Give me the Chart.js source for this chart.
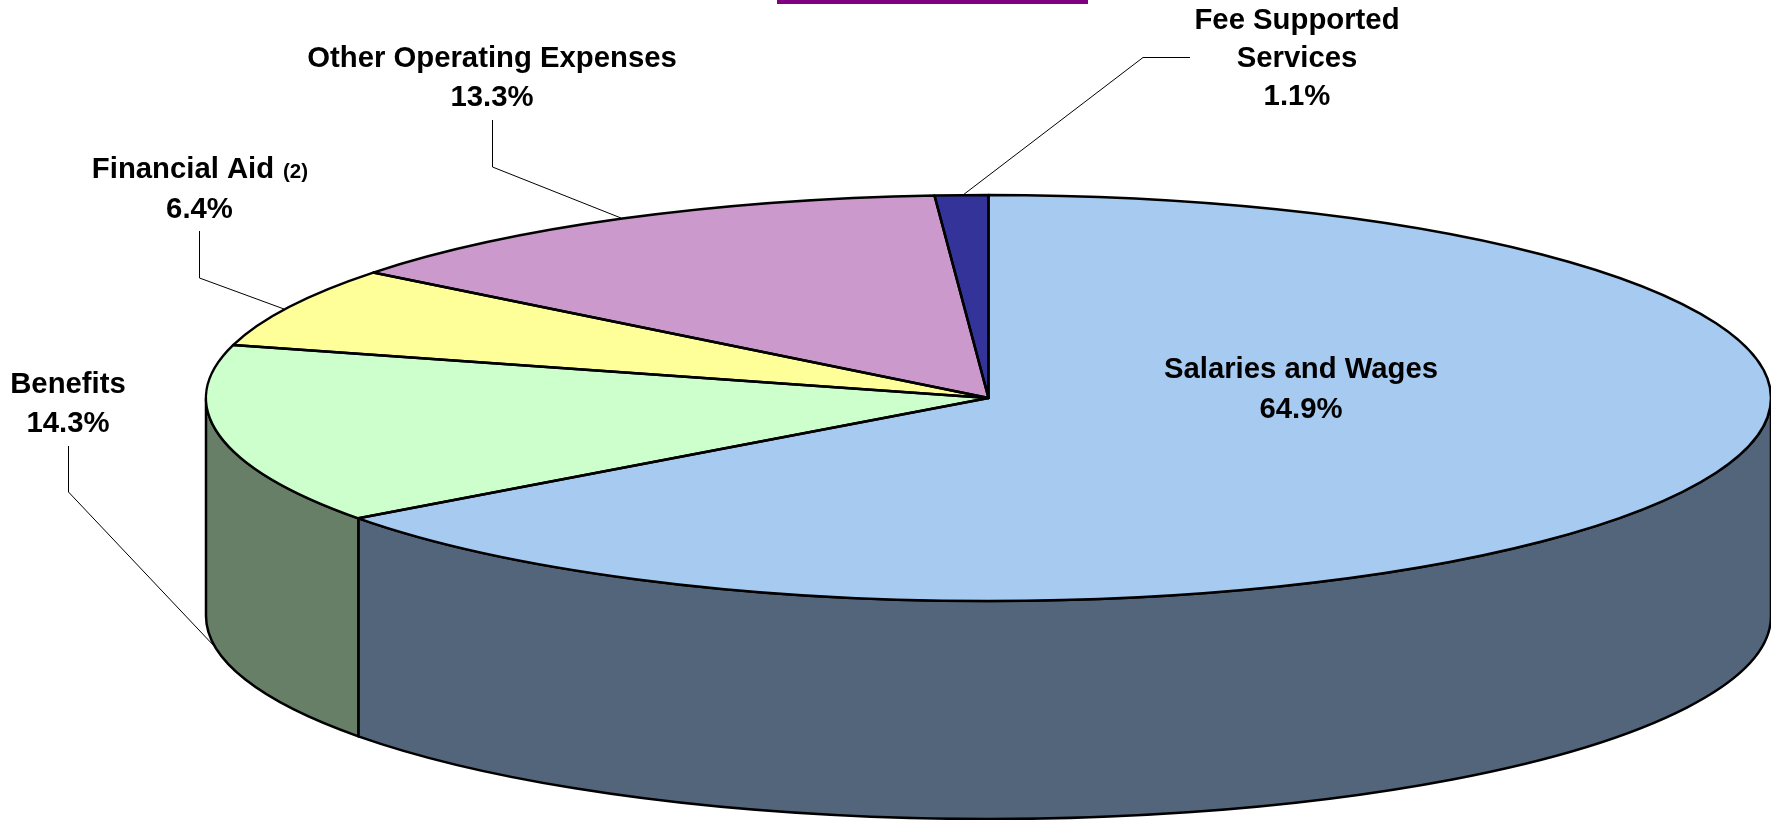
<!DOCTYPE html>
<html>
<head>
<meta charset="utf-8">
<title>Expenses</title>
<script src="https://cdn.jsdelivr.net/npm/chart.js@4/dist/chart.umd.min.js"></script>
<style>
  html, body { margin: 0; padding: 0; background: #ffffff; overflow: hidden; }
  #wrap { width: 1771px; height: 820px; }
</style>
</head>
<body>
<div id="wrap"><canvas id="pie" width="1771" height="820"></canvas></div>
<script>
var categories = ['Salaries and Wages', 'Benefits', 'Financial Aid', 'Other Operating Expenses', 'Fee Supported Services'];
var shares = [64.9, 14.3, 6.4, 13.3, 1.1];
var topColors = ['#A6CAF0', '#CCFFCC', '#FFFF99', '#CC99CC', '#333399'];
var wallColors = ['#53657A', '#667F66', '#80804D', '#664D66', '#1A1A4D'];

var RX = 782.5, RY = 203, DEPTH = 218;
var LABEL_FONT = 'bold 29.3px "Liberation Sans", Arial, sans-serif';
var NOTE_FONT = 'bold 20.5px "Liberation Sans", Arial, sans-serif';

// where each label goes, one entry per category
var labelLayout = [
  { x: 1301, lines: ['Salaries and Wages'], base: [378, 418] },
  { x: 68, lines: ['Benefits'], base: [393, 432] },
  { x: 183, lines: ['Financial Aid'], base: [178, 218], note: '(2)', noteX: 283, pctX: 199.5 },
  { x: 492, lines: ['Other Operating Expenses'], base: [67, 106] },
  { x: 1297, lines: ['Fee Supported', 'Services'], base: [29, 67, 105] }
];

var leaders = [
  [[68.5, 446], [68.5, 492], [215, 647]],
  [[199.5, 231], [199.5, 278], [284, 309]],
  [[492.5, 120], [492.5, 167], [621, 218]],
  [[1190, 57.5], [1143, 57.5], [963, 195]]
];

function arcsOf(chart) {
  return chart.getDatasetMeta(0).data;
}

function drawLeaders(ctx) {
  ctx.strokeStyle = '#000000';
  ctx.lineWidth = 1;
  leaders.forEach(function(pts) {
    ctx.beginPath();
    pts.forEach(function(p, i) {
      if (i === 0) ctx.moveTo(p[0], p[1]);
      else ctx.lineTo(p[0], p[1]);
    });
    ctx.stroke();
  });
}

function drawWalls(ctx, arcs) {
  ctx.strokeStyle = '#000000';
  ctx.lineWidth = 2.5;
  ctx.lineJoin = 'round';
  arcs.forEach(function(arc, i) {
    var a0 = Math.max(arc.startAngle, 0);
    var a1 = Math.min(arc.endAngle, Math.PI);
    if (a1 <= a0) return;
    ctx.beginPath();
    ctx.ellipse(arc.x, arc.y, arc.outerRadius, RY, 0, a0, a1, false);
    ctx.ellipse(arc.x, arc.y + DEPTH, arc.outerRadius, RY, 0, a1, a0, true);
    ctx.closePath();
    ctx.fillStyle = wallColors[i];
    ctx.fill();
    ctx.stroke();
  });
}

function drawOutlines(ctx, arcs) {
  ctx.strokeStyle = '#000000';
  ctx.lineWidth = 2.5;
  ctx.lineJoin = 'round';
  arcs.forEach(function(arc) {
    ctx.beginPath();
    ctx.moveTo(arc.x, arc.y);
    ctx.ellipse(arc.x, arc.y, arc.outerRadius, RY, 0, arc.startAngle, arc.endAngle, false);
    ctx.closePath();
    ctx.stroke();
  });
}

function drawLabels(ctx) {
  ctx.fillStyle = '#000000';
  ctx.textBaseline = 'alphabetic';
  labelLayout.forEach(function(l, i) {
    ctx.font = LABEL_FONT;
    if (l.note) {
      ctx.textAlign = 'center';
      ctx.fillText(l.lines[0], l.x, l.base[0]);
      ctx.font = NOTE_FONT;
      ctx.textAlign = 'left';
      ctx.fillText(l.note, l.noteX, l.base[0]);
      ctx.font = LABEL_FONT;
    } else {
      ctx.textAlign = 'center';
      l.lines.forEach(function(line, k) {
        ctx.fillText(line, l.x, l.base[k]);
      });
    }
    ctx.textAlign = 'center';
    ctx.fillText(shares[i].toFixed(1) + '%', l.pctX || l.x, l.base[l.lines.length]);
  });
}

var pie3d = {
  id: 'pie3d',
  beforeDatasetsDraw: function(chart) {
    var ctx = chart.ctx;
    var arcs = arcsOf(chart);
    drawLeaders(ctx);
    drawWalls(ctx, arcs);
    // squash the library's round pie into the ellipse
    ctx.save();
    ctx.translate(arcs[0].x, arcs[0].y);
    ctx.scale(1, RY / RX);
    ctx.translate(-arcs[0].x, -arcs[0].y);
  },
  afterDatasetsDraw: function(chart) {
    var ctx = chart.ctx;
    ctx.restore();
    drawOutlines(ctx, arcsOf(chart));
    drawLabels(ctx);
    // purple rule cut off at the top of the page
    ctx.fillStyle = '#800080';
    ctx.fillRect(777, 0, 311, 4);
  }
};

new Chart(document.getElementById('pie'), {
  type: 'pie',
  data: {
    labels: categories,
    datasets: [{
      data: shares,
      backgroundColor: topColors,
      borderWidth: 0,
      radius: RX,
      clip: false
    }]
  },
  options: {
    responsive: false,
    animation: false,
    events: [],
    layout: { padding: { left: 206, right: 0, top: 0, bottom: 24 } },
    plugins: {
      legend: { display: false },
      tooltip: { enabled: false }
    }
  },
  plugins: [pie3d]
});
</script>
</body>
</html>
